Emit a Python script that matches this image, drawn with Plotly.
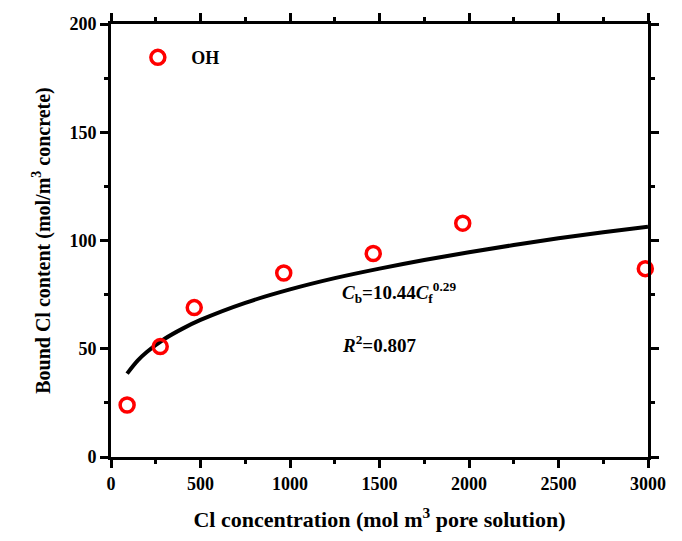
import plotly.graph_objects as go

# Measured data
cl_free = [90, 275, 465, 965, 1465, 1965, 2985]
cl_bound = [24, 51, 69, 85, 94, 108, 87]

# Fitted curve (Cb = 10.44 Cf^0.29)
fit_x = [90, 150, 200, 300, 400, 500, 750, 1000, 1250, 1500, 1750, 2000, 2250, 2500, 2750, 3000]
fit_y = [38.5, 44.6, 48.5, 54.6, 59.3, 63.3, 71.2, 77.4, 82.6, 87.0, 91.0, 94.6, 97.9, 101.0, 103.8, 106.4]

x_ticks = [0, 500, 1000, 1500, 2000, 2500, 3000]
y_ticks = [0, 50, 100, 150, 200]

font_family = "Liberation Serif"

fig = go.Figure()
fig.add_trace(go.Scatter(
    x=fit_x, y=fit_y, mode="lines",
    line=dict(color="black", width=4, shape="spline"),
    showlegend=False, hoverinfo="skip",
))
fig.add_trace(go.Scatter(
    x=cl_free, y=cl_bound, mode="markers", name="<b>\u00a0\u00a0\u00a0OH</b>",
    marker=dict(symbol="circle-open", size=14, color="#ff0000",
                line=dict(color="#ff0000", width=3.5)),
    cliponaxis=False,
))

axis_common = dict(
    showline=True, linecolor="black", linewidth=3, mirror="allticks",
    ticks="outside", ticklen=8, tickwidth=3, tickcolor="black",
    showgrid=False, zeroline=False,
    tickfont=dict(family=font_family, size=18, color="black", weight="bold"),
    minor=dict(ticks="outside", ticklen=4, tickwidth=3, tickcolor="black", showgrid=False),
)

fig.update_xaxes(
    range=[0, 3000], tickvals=x_ticks, ticktext=[str(v) for v in x_ticks],
    minor_dtick=250,
    title=dict(text="<b>Cl concentration (mol m<sup>3</sup> pore solution)</b>",
               font=dict(family=font_family, size=22, color="black"), standoff=20),
    **axis_common,
)
fig.update_yaxes(
    range=[0, 200], tickvals=y_ticks, ticktext=[str(v) for v in y_ticks],
    minor_dtick=25,
    title=dict(text="<b>Bound Cl content (mol/m<sup>3</sup> concrete)</b>",
               font=dict(family=font_family, size=20, color="black"), standoff=14),
    **axis_common,
)

fig.add_annotation(
    x=1280, y=76, xref="x", yref="y", xanchor="left", yanchor="middle",
    text="<b><i>C</i><sub>b</sub>=10.44<i>C</i><sub>f</sub><sup>0.29</sup></b>",
    showarrow=False, font=dict(family=font_family, size=19, color="black"),
)
fig.add_annotation(
    x=1280, y=52, xref="x", yref="y", xanchor="left", yanchor="middle",
    text="<b><i>R</i><sup>2</sup>=0.807</b>",
    showarrow=False, font=dict(family=font_family, size=19, color="black"),
)

fig.update_layout(
    width=682, height=541,
    margin=dict(l=111, r=34, t=24, b=84),
    paper_bgcolor="white", plot_bgcolor="white",
    legend=dict(x=0.05, y=0.965, xanchor="left", yanchor="top",
                bgcolor="rgba(0,0,0,0)",
                font=dict(family=font_family, size=18, color="black")),
)

fig.write_html("out.html")
